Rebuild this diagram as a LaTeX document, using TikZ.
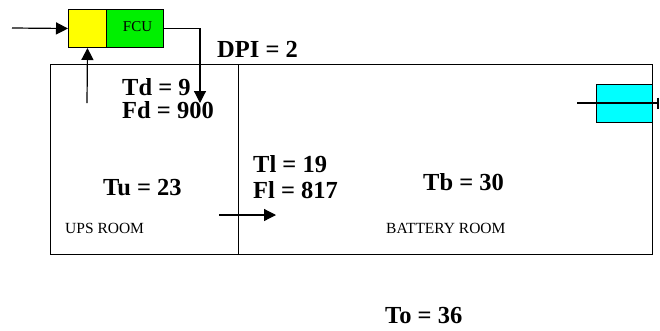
\documentclass[tikz,border=0pt]{standalone}
\usepackage{fontspec}
\setmainfont{Liberation Serif}
\usetikzlibrary{arrows.meta, positioning}

\definecolor{mixyellow}{RGB}{255,255,0}
\definecolor{fcugreen}{RGB}{0,240,0}
\definecolor{fancyan}{RGB}{0,255,255}

\tikzset{
    val/.style={font=\bfseries\fontsize{24.5}{25}\selectfont, anchor=base west, inner sep=0pt, text height=16pt, text depth=0pt},
    roomname/.style={font=\fontsize{15.5}{16}\selectfont, anchor=base west, inner sep=0pt},
    room/.style={draw, line width=1.4pt, anchor=north west, inner sep=0pt},
    unit/.style={draw, line width=1pt, inner sep=0pt, anchor=north west},
    flow/.style={line width=1.2pt, -{Triangle[length=12pt,width=12pt]}}
}

\begin{document}
\begin{tikzpicture}[x=1pt, y=-1pt]
    \useasboundingbox (0,0) rectangle (660,330);
    % rooms
    \node[room, minimum width=188pt, minimum height=190pt] (upsroom) at (50,64) {};
    \node[room, minimum width=414pt, minimum height=190pt] (batroom) at (238,64) {};
    % fan coil unit
    \node[unit, fill=mixyellow, minimum width=38pt, minimum height=38pt] (mixbox) at (68,9) {};
    \node[unit, fill=fcugreen, minimum width=57pt, minimum height=38pt, font=\fontsize{15}{15}\selectfont, inner sep=0pt] (fcu) at (106,9) {\raisebox{4pt}{\hspace{5pt}FCU}};
    % exhaust fan
    \node[unit, fill=fancyan, minimum width=56pt, minimum height=38pt] (fan) at (596,84) {};
    % free ends
    \coordinate (inlet) at (12,28);
    \coordinate (return) at (87,103);
    \coordinate (supply) at (200,103);
    \coordinate (doorin) at (219,215);
    \coordinate (doorout) at (276,215);
    \coordinate (fanin) at (577,103);
    \coordinate (fanout) at (659,103);
    % connectors
    \draw[flow] (inlet) -- (mixbox.west);
    \draw[flow] (return) -- (mixbox.south);
    \draw[flow] (fcu.east) -| (supply);
    \draw[flow] (doorin) -- (doorout);
    \draw[line width=1.2pt, -{Bar[width=11pt,line width=2pt]}] (fanin) -- (fanout);
    % values
    \node[val] (dpi) at (217,57) {DPI = 2};
    \node[val] (td) at (122,95) {Td = 9};
    \node[val] (fd) at (122,118) {Fd = 900};
    \node[val] (tu) at (103,195) {Tu = 23};
    \node[val] (tl) at (253,172) {Tl = 19};
    \node[val] (fl) at (253,198) {Fl = 817};
    \node[val] (tb) at (423,190) {Tb = 30};
    \node[val] (to) at (385,323) {To = 36};
    % room names
    \node[roomname] (upsname) at (65,233) {UPS ROOM};
    \node[roomname] (batname) at (386,233) {BATTERY ROOM};
\end{tikzpicture}
\end{document}
